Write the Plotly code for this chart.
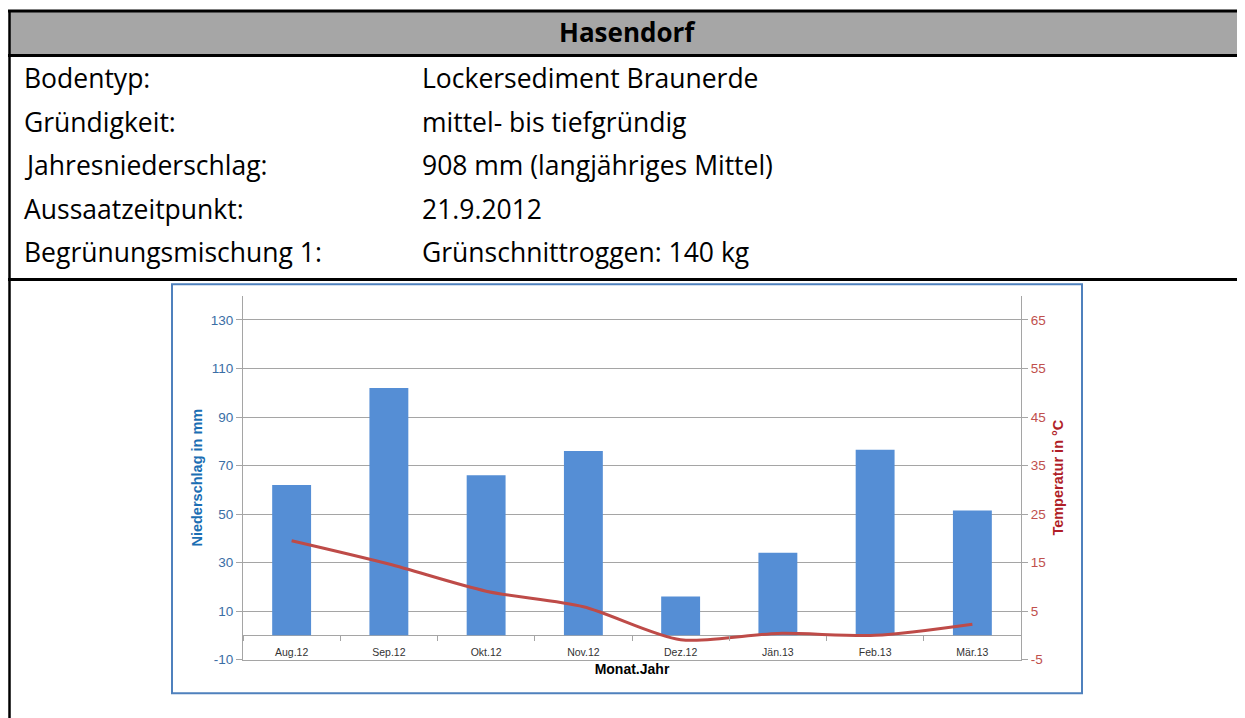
import plotly.graph_objects as go

# ---- data ----
monate = ["Aug.12", "Sep.12", "Okt.12", "Nov.12", "Dez.12", "Jän.13", "Feb.13", "Mär.13"]
niederschlag_mm = [62, 102, 66, 76, 16, 34, 76.5, 51.5]
temperatur_c = [19.5, 14.7, 9.1, 5.9, -0.9, 0.4, 0.0, 2.3]

tabelle_labels = ["Bodentyp:", "Gründigkeit:", "Jahresniederschlag:", "Aussaatzeitpunkt:", "Begrünungsmischung 1:"]
tabelle_werte = ["Lockersediment Braunerde", "mittel- bis tiefgründig", "908 mm (langjähriges Mittel)",
                 "21.9.2012", "Grünschnittroggen: 140 kg"]
standort = "Hasendorf"

links_ticks = [-10, 10, 30, 50, 70, 90, 110, 130]
rechts_ticks = [-5, 5, 15, 25, 35, 45, 55, 65]

# ---- layout helpers (page has an 8px body margin) ----
OFF = 8
FW, FH = 1245 - OFF, 718 - OFF
def px(x):
    return (x - OFF) / FW
def py(y):
    return 1 - (y - OFF) / FH

ymin, ymax = -10, 140
dom_x = [px(243), px(1021)]
dom_y = [py(667), py(299)]
zero_pos = dom_y[0] + (0 - ymin) / (ymax - ymin) * (dom_y[1] - dom_y[0])

grid_col = "#A5A5A5"
bar_col = "#558ED5"
line_col = "#BE4B48"
table_font = "Open Sans"
chart_font = "Liberation Sans, Arial, sans-serif"

fig = go.Figure()
fig.add_trace(go.Bar(
    x=monate, y=niederschlag_mm, marker=dict(color=bar_col, line=dict(width=0)),
    name="Niederschlag", xaxis="x", yaxis="y", showlegend=False,
))
fig.add_trace(go.Scatter(
    x=monate, y=temperatur_c, mode="lines",
    line=dict(color=line_col, width=3, shape="spline", smoothing=0.8),
    name="Temperatur", xaxis="x2", yaxis="y2", showlegend=False,
))

shapes = [
    dict(type="rect", xref="paper", yref="paper", x0=px(9), x1=px(1260), y0=py(56), y1=py(11),
         fillcolor="#A6A6A6", line=dict(width=0), layer="below"),
    dict(type="line", xref="paper", yref="paper", x0=px(8), x1=px(1260), y0=py(11), y1=py(11),
         line=dict(color="black", width=3)),
    dict(type="line", xref="paper", yref="paper", x0=px(8), x1=px(1260), y0=py(56), y1=py(56),
         line=dict(color="black", width=3)),
    dict(type="line", xref="paper", yref="paper", x0=px(8), x1=px(1260), y0=py(282.5), y1=py(282.5),
         line=dict(color="black", width=3)),
    dict(type="line", xref="paper", yref="paper", x0=px(9.5), x1=px(9.5), y0=py(10), y1=py(730),
         line=dict(color="black", width=2.5)),
    dict(type="rect", xref="paper", yref="paper", x0=px(172), x1=px(1082), y0=py(701), y1=py(287.5),
         line=dict(color="#4F81BD", width=2), fillcolor="rgba(0,0,0,0)"),
]

annotations = [
    dict(text=f"<b>{standort}</b>", xref="paper", yref="paper", x=px(627), y=py(32),
         xanchor="center", yanchor="middle", showarrow=False,
         font=dict(family=table_font, size=26, color="black")),
]
row_y = [79, 123, 167, 211, 255]
for lab, val, yy in zip(tabelle_labels, tabelle_werte, row_y):
    annotations.append(dict(text=lab, xref="paper", yref="paper", x=px(22), y=py(yy),
                            xanchor="left", yanchor="middle", showarrow=False,
                            font=dict(family=table_font, size=26.5, color="black")))
    annotations.append(dict(text=val, xref="paper", yref="paper", x=px(420), y=py(yy),
                            xanchor="left", yanchor="middle", showarrow=False,
                            font=dict(family=table_font, size=26.5, color="black")))

fig.update_layout(
    width=FW, height=FH,
    margin=dict(l=0, r=0, t=0, b=0),
    paper_bgcolor="white", plot_bgcolor="white",
    bargap=0.6,
    shapes=shapes,
    annotations=annotations,
    xaxis=dict(
        domain=dom_x, anchor="y", type="category",
        showgrid=False, zeroline=False,
        showline=True, linecolor=grid_col, linewidth=1,
        ticks="", showticklabels=False,
        title=dict(text="<b>Monat.Jahr</b>", font=dict(family=chart_font, size=14, color="black"),
                   standoff=4),
    ),
    xaxis2=dict(
        matches="x", overlaying="x", anchor="free", position=zero_pos, side="bottom",
        type="category",
        showgrid=False, zeroline=False, showline=False, showticklabels=True,
        ticks="outside", ticklen=5, tickcolor=grid_col, tickson="boundaries",
        ticklabelstandoff=9,
        tickfont=dict(family=chart_font, size=10.5, color="#333333"),
    ),
    yaxis=dict(
        domain=dom_y, anchor="x", range=[ymin, ymax],
        tickvals=links_ticks, ticktext=[str(v) for v in links_ticks],
        showgrid=True, gridcolor=grid_col, gridwidth=1,
        zeroline=True, zerolinecolor=grid_col, zerolinewidth=1,
        showline=True, linecolor=grid_col, linewidth=1,
        ticks="outside", ticklen=6, tickcolor=grid_col,
        tickfont=dict(family=chart_font, size=13.5, color="#3A6EA5"),
        title=dict(text="<b>Niederschlag in mm</b>",
                   font=dict(family=chart_font, size=14.5, color="#1B6EB3"), standoff=4),
    ),
    yaxis2=dict(
        overlaying="y", side="right", anchor="x", range=[ymin / 2, ymax / 2],
        tickvals=rechts_ticks, ticktext=[str(v) for v in rechts_ticks],
        showgrid=False, zeroline=False,
        showline=True, linecolor=grid_col, linewidth=1,
        ticks="outside", ticklen=6, tickcolor=grid_col,
        tickfont=dict(family=chart_font, size=13.5, color="#C0504D"),
        title=dict(text="<b>Temperatur in °C</b>",
                   font=dict(family=chart_font, size=14.5, color="#B01E28"), standoff=8),
    ),
)

fig.write_html("out.html")
